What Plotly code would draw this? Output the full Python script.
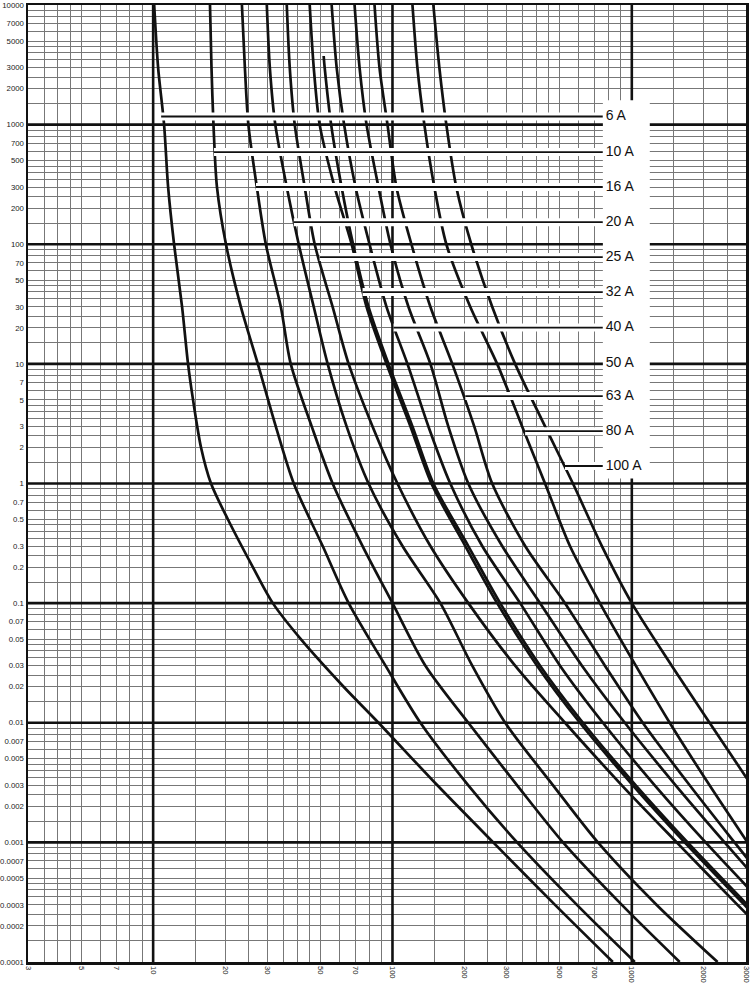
import numpy as np
import plotly.graph_objects as go

# ---------------- data ----------------
times = [10000, 3000, 1000, 300, 100, 30, 10, 3, 1, 0.3, 0.1, 0.03, 0.01, 0.003, 0.001, 0.0003, 0.0001]

t_6A = [10000, 3000, 1000, 300, 100, 30, 10, 5, 2, 1, 0.5, 0.2, 0.1, 0.05, 0.02, 0.01, 0.003, 0.001, 0.0003, 0.0001]
i_6A = [10.1, 10.49, 11.11, 11.55, 12.23, 13.21, 13.99, 14.68, 15.85, 17.45, 20.54, 26.1, 31.62, 41.4, 62.5, 87.4, 154, 263.6, 477.8, 833]
i_10A = [17.28, 17.53, 17.87, 18.48, 20.15, 23.26, 27.38, 32.54, 38.69, 51.1, 65.6, 93.5, 130.8, 207.4, 331.8, 590, 1029]
i_16A = [23.49, 24.17, 25.0, 27.12, 29.57, 34.15, 37.58, 45.97, 56.23, 74.99, 100, 137.3, 207.4, 331.8, 515.9, 908.6, 1585]
i_20A = [29.85, 30.73, 32.39, 36.17, 40.58, 46.88, 53.6, 64.31, 79.43, 110.1, 158.5, 215.4, 295.7, 468.8, 721.8, 1271, 2282]
i_25A = [36.17, 37.22, 39.05, 42.99, 47.32, 56.23, 65.6, 82.54, 104.9, 144.0, 207.4, 325.4, 525.9, 908.6, 1540, 2765, 4777]
i_32A = [45.1, 46.88, 49.64, 57.32, 67.5, 77.93, 94.41, 118.9, 145.4, 201.5, 273.8, 401.9, 607.2, 1010, 1663, 2957, 5012]
t_32A_b = [3746, 3000, 1000, 300, 100, 30, 10, 3, 1, 0.3, 0.1, 0.03, 0.01, 0.003, 0.001, 0.0003, 0.0001]
i_32A_b = [51.58, 52.08, 55.43, 61.3, 68.46, 79.43, 96.23, 121.2, 148.2, 207.4, 281.8, 413.7, 624.9, 1039, 1711, 3043, 5158]
i_40A = [55.7, 58.45, 62.8, 70.12, 80.2, 94.41, 115.5, 141.3, 174.4, 237.1, 341.5, 501.2, 757.3, 1247, 2034, 3583]
i_50A = [69.44, 72.86, 77.93, 87.4, 98.1, 116.6, 144.0, 171.1, 207.4, 287.3, 413.7, 619.0, 935, 1525, 2441, 4137]
i_63A = [84.14, 88.25, 95.32, 103.9, 120.0, 144.0, 177.8, 219.6, 261.0, 358.3, 525.9, 771.9, 1111, 1745, 2686, 4340]
i_80A = [121.2, 127.1, 135.9, 149.6, 167.9, 211.3, 273.8, 348.1, 434.0, 551.5, 735.6, 1039, 1440, 2113, 3043]
i_100A = [148.2, 157.0, 167.9, 184.8, 213.4, 261.0, 325.4, 434.0, 567.6, 749.9, 1000, 1468, 2113, 3162]

ratings = ["6 A", "10 A", "16 A", "20 A", "25 A", "32 A", "40 A", "50 A", "63 A", "80 A", "100 A"]
label_times = [1169, 590, 301, 153, 78.2, 39.8, 20.1, 10, 5.38, 2.74, 1.40]
leader_start = [10.8, 17.96, 26.9, 38.7, 49.6, 75.0, 101, None, 201.5, 358.3, 525.9]
leader_end = 757
label_x = 778
box_x = [757, 1189]
box_t = [1.1, 1600]

x_labels = [3, 5, 7, 10, 20, 30, 50, 70, 100, 200, 300, 500, 700, 1000, 2000, 3000]
y_labels = [10000, 7000, 5000, 3000, 2000, 1000, 700, 500, 300, 200, 100, 70, 50, 30, 20, 10,
            7, 5, 3, 2, 1, 0.7, 0.5, 0.3, 0.2, 0.1, 0.07, 0.05, 0.03, 0.02, 0.01,
            0.007, 0.005, 0.003, 0.002, 0.001, 0.0007, 0.0005, 0.0003, 0.0002, 0.0001]
grid_mult = [1, 1.5, 2, 2.5, 3, 3.5, 4, 4.5, 5, 6, 7, 8, 9]

# ---------------- figure ----------------
FONT = "Liberation Sans, Arial, Helvetica, sans-serif"

def fmt(v):
    s = ("%.4f" % v).rstrip("0").rstrip(".")
    return s

x_grid = sorted({round(m * 10 ** k, 6) for k in range(0, 4) for m in grid_mult if 3 <= m * 10 ** k <= 3000})
y_grid = sorted({round(m * 10.0 ** k, 8) for k in range(-4, 5) for m in grid_mult if 1e-4 <= m * 10.0 ** k <= 1e4})
x_lab_set = {round(v, 6) for v in x_labels}
y_lab_set = {round(v, 8) for v in y_labels}
x_text = [fmt(v) if round(v, 6) in x_lab_set else "" for v in x_grid]
y_text = [fmt(v) if round(v, 8) in y_lab_set else "" for v in y_grid]

fig = go.Figure()

# decade lines (heavy)
for xd in [10, 100, 1000]:
    fig.add_trace(go.Scatter(x=[xd, xd], y=[1e-4, 1e4], mode="lines",
                             line=dict(color="#111", width=2.6), hoverinfo="skip", showlegend=False))
for k in range(-3, 4):
    fig.add_trace(go.Scatter(x=[3, 3000], y=[10.0 ** k, 10.0 ** k], mode="lines",
                             line=dict(color="#111", width=2.6), hoverinfo="skip", showlegend=False))

curves = [
    (i_6A, t_6A), (i_10A, times), (i_16A, times), (i_20A, times), (i_25A, times),
    (i_32A, times), (i_32A_b, t_32A_b), (i_40A, times), (i_50A, times), (i_63A, times),
    (i_80A, times), (i_100A, times),
]
for cur, tt in curves:
    fig.add_trace(go.Scatter(x=cur, y=tt[:len(cur)], mode="lines",
                             line=dict(color="#111", width=2.7, shape="spline", smoothing=0.8),
                             hoverinfo="skip", showlegend=False))

# leader lines with white halo
for st, t in zip(leader_start, label_times):
    if st is None:
        continue
    fig.add_trace(go.Scatter(x=[st, leader_end], y=[t, t], mode="lines",
                             line=dict(color="white", width=8), hoverinfo="skip", showlegend=False))
    fig.add_trace(go.Scatter(x=[st, leader_end], y=[t, t], mode="lines",
                             line=dict(color="#111", width=1.8), hoverinfo="skip", showlegend=False))

# white label box
fig.add_trace(go.Scatter(x=[box_x[0], box_x[1], box_x[1], box_x[0], box_x[0]],
                         y=[box_t[0], box_t[0], box_t[1], box_t[1], box_t[0]],
                         mode="lines", fill="toself", fillcolor="white",
                         line=dict(width=0, color="white"), hoverinfo="skip", showlegend=False))

fig.add_trace(go.Scatter(x=[label_x] * len(ratings), y=label_times, mode="text", text=ratings,
                         textposition="middle right",
                         textfont=dict(family=FONT, size=14, color="#111"),
                         hoverinfo="skip", showlegend=False))

fig.update_layout(
    width=750, height=984,
    margin=dict(l=28, r=4, t=5, b=22, autoexpand=False),
    paper_bgcolor="white", plot_bgcolor="white",
    hovermode=False, showlegend=False,
    xaxis=dict(type="log", range=[np.log10(3), np.log10(3000)], automargin=False,
               tickmode="array", tickvals=x_grid, ticktext=x_text,
               showgrid=True, gridcolor="#777", gridwidth=1,
               tickangle=90, tickfont=dict(family=FONT, size=7.5, color="#222"),
               ticklabeloverflow="allow",
               ticks="", showline=True, linecolor="#111", linewidth=2.5, mirror=True,
               zeroline=False),
    yaxis=dict(type="log", range=[-4, 4], automargin=False,
               tickmode="array", tickvals=y_grid, ticktext=y_text,
               showgrid=True, gridcolor="#777", gridwidth=1,
               tickfont=dict(family=FONT, size=7.8, color="#222"),
               ticklabeloverflow="allow",
               ticks="", showline=True, linecolor="#111", linewidth=2.5, mirror=True,
               zeroline=False),
)

fig.write_html("out.html", config={"displayModeBar": False, "staticPlot": True},
               post_script="document.body.style.margin='0px';document.body.style.padding='0px';")
